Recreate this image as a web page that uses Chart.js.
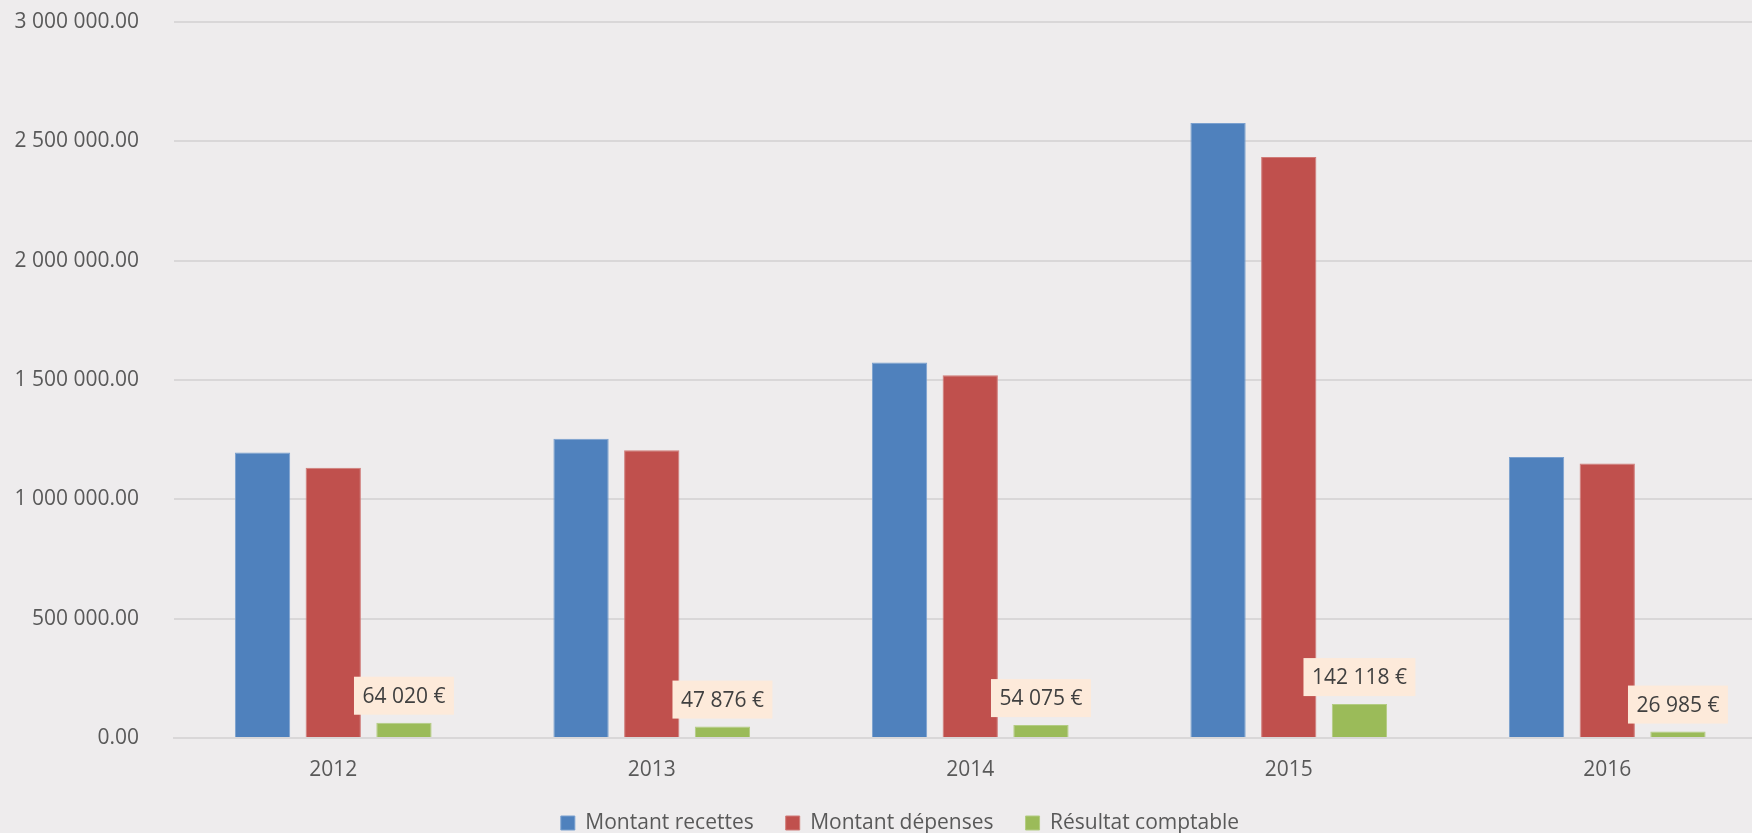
<!DOCTYPE html>
<html>
<head>
<meta charset="utf-8">
<script src="https://cdn.jsdelivr.net/npm/chart.js@4"></script>
<style>
  html, body { margin: 0; padding: 0; background: #eeeced; overflow: hidden; }
  /* le graphique d'origine est coupé à droite : canvas plus large que la fenêtre */
  #wrap { width: 1800px; height: 833px; }
</style>
</head>
<body>
<div id="wrap"><canvas id="graphique"></canvas></div>
<script>
const annees = ['2012', '2013', '2014', '2015', '2016'];
const recettes = [1196000, 1253500, 1573500, 2576500, 1177000];
const depenses = [1131980, 1205624, 1519425, 2434382, 1150015];
const resultat = [64020, 47876, 54075, 142118, 26985];
const etiquettesResultat = ['64 020 €', '47 876 €', '54 075 €', '142 118 €', '26 985 €'];

Chart.defaults.font.family = "'Open Sans', sans-serif";
Chart.defaults.font.size = 21;
Chart.defaults.color = '#595959';

function formatMontant(v) {
    const parts = Number(v).toFixed(2).split('.');
    return parts[0].replace(/\B(?=(\d{3})+(?!\d))/g, ' ') + '.' + parts[1];
}

// etiquettes sur les barres vertes
const etiquettes = {
    id: 'etiquettes',
    afterDatasetsDraw(chart) {
        const ctx = chart.ctx;
        const meta = chart.getDatasetMeta(2);
        ctx.save();
        ctx.font = "21px 'Open Sans', sans-serif";
        ctx.textAlign = 'center';
        ctx.textBaseline = 'middle';
        meta.data.forEach((bar, i) => {
            const txt = etiquettesResultat[i];
            const w = ctx.measureText(txt).width + 17;
            const h = 38;
            const bas = bar.y - 8;
            ctx.fillStyle = '#fdeada';
            ctx.fillRect(bar.x - w / 2, bas - h, w, h);
            ctx.fillStyle = '#404040';
            ctx.fillText(txt, bar.x, bas - h / 2 + 1);
        });
        ctx.restore();
    }
};

const fond = {
    id: 'fond',
    beforeDraw(chart) {
        const ctx = chart.ctx;
        ctx.save();
        ctx.fillStyle = '#eeeced';
        ctx.fillRect(0, 0, chart.width, chart.height);
        ctx.restore();
    }
};

const datasets = [
    {
        label: 'Montant recettes',
        data: recettes,
        backgroundColor: '#4f81bd',
        borderColor: '#7aa0cf',
        borderWidth: 1
    },
    {
        label: 'Montant dépenses',
        data: depenses,
        backgroundColor: '#c0504d',
        borderColor: '#d07b78',
        borderWidth: 1
    },
    {
        label: 'Résultat comptable',
        data: resultat,
        backgroundColor: '#9bbb59',
        borderColor: '#b3cc82',
        borderWidth: 1
    }
];

const config = {
    type: 'bar',
    data: { labels: annees, datasets },
    options: {
        responsive: true,
        maintainAspectRatio: false,
        animation: false,
        datasets: {
            bar: { barPercentage: 0.782, categoryPercentage: 0.666 }
        },
        layout: { padding: { top: 22, right: 0, bottom: 0, left: 0 } },
        plugins: {
            tooltip: { enabled: false },
            legend: {
                position: 'bottom',
                maxHeight: 52.5,
                labels: {
                    boxWidth: 14,
                    boxHeight: 14,
                    padding: 32,
                    color: '#595959',
                    font: { size: 21 }
                }
            }
        },
        scales: {
            x: {
                grid: { display: false, drawTicks: false },
                border: { display: true, color: '#d9d7d8', width: 2 },
                ticks: { padding: 21.5, color: '#595959', font: { size: 21, lineHeight: 1 } },
                afterFit(scale) {
                    scale.height = 42.5;
                    scale.paddingLeft = 0;
                    scale.paddingRight = 0;
                }
            },
            y: {
                min: 0,
                max: 3000000,
                grid: { color: '#d9d7d8', lineWidth: 2, drawTicks: false },
                border: { display: false },
                ticks: {
                    stepSize: 500000,
                    padding: 35,
                    color: '#595959',
                    callback: (v) => formatMontant(v)
                },
                afterFit(scale) {
                    scale.width = 174;
                    scale.paddingTop = 0;
                    scale.paddingBottom = 0;
                }
            },
            marge: {
                type: 'linear',
                position: 'right',
                display: true,
                grid: { display: false, drawTicks: false },
                border: { display: false },
                ticks: { display: false },
                afterFit(scale) {
                    scale.width = 33.5;
                    scale.paddingTop = 0;
                    scale.paddingBottom = 0;
                }
            }
        }
    },
    plugins: [fond, etiquettes]
};

window.graphique = new Chart(document.getElementById('graphique'), config);
</script>
</body>
</html>
